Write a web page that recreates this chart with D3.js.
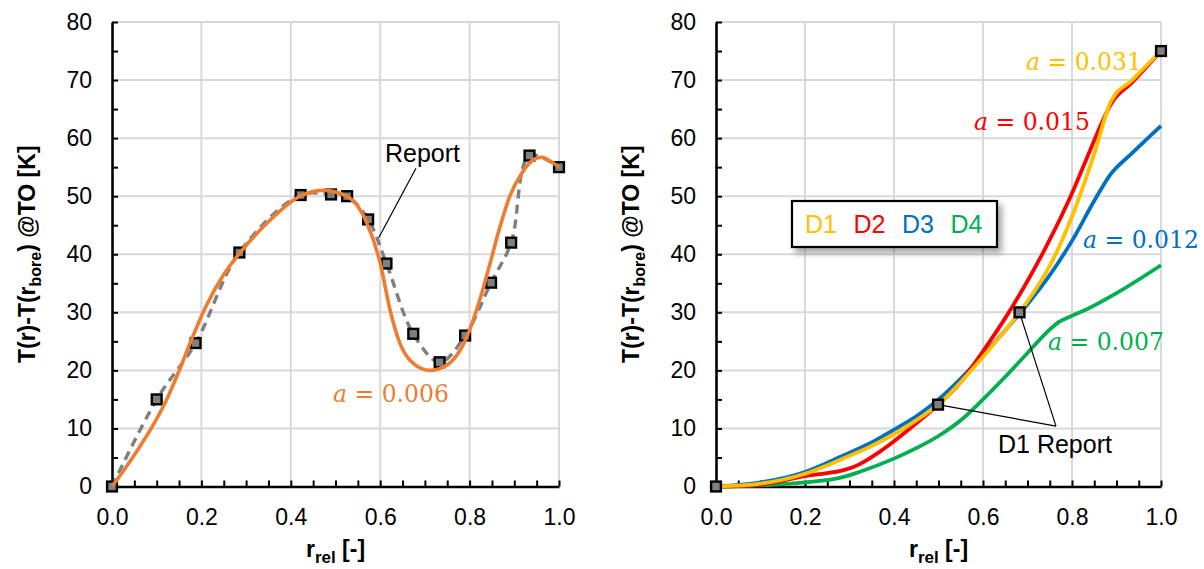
<!DOCTYPE html>
<html>
<head>
<meta charset="utf-8">
<script src="https://cdn.jsdelivr.net/npm/d3@7"></script>
<style>
  body { margin: 0; background: #fff; }
  svg { display: block; }
  .tick text { font-family: "Liberation Sans", Arial, sans-serif; font-size: 23px; fill: #000; }
  .axis path, .axis line { stroke: #000; }
  .title { font-family: "Liberation Sans", Arial, sans-serif; font-weight: bold; font-size: 23px; }
  .note { font-family: "Liberation Sans", Arial, sans-serif; font-size: 25px; }
  .math { font-family: "DejaVu Serif", serif; font-size: 23.5px; }
</style>
</head>
<body>
<svg id="chart" width="1204" height="569"></svg>
<script>
// left panel: report points and model fit (a = 0.006)
const reportR = [0, 0.100, 0.187, 0.285, 0.422, 0.490, 0.526, 0.573, 0.614, 0.674, 0.733, 0.790, 0.848, 0.893, 0.934, 1.0];
const reportT = [0, 15.0, 24.7, 40.3, 50.2, 50.3, 50.0, 46.0, 38.4, 26.3, 21.4, 26.0, 35.1, 42.0, 57.0, 55.0];

const modelR = [0, 0.03, 0.06, 0.09, 0.12, 0.15, 0.18, 0.21, 0.25, 0.29, 0.35, 0.421, 0.473, 0.525, 0.570, 0.600, 0.622, 0.644, 0.674, 0.711, 0.749, 0.794, 0.823, 0.846, 0.866, 0.890, 0.917, 0.943, 0.961, 0.987, 1.0];
const modelT = [0, 3.2, 6.6, 10.3, 14.6, 19.9, 25.7, 31.0, 36.5, 40.6, 45.6, 50.0, 51.0, 50.0, 45.4, 38.5, 30.4, 24.7, 21.2, 20.0, 20.9, 25.8, 32.2, 38.5, 44.2, 50.0, 54.0, 56.3, 56.7, 55.7, 55.0];

// right panel: designs D1..D4
const d1R = [0, 0.10, 0.20, 0.285, 0.345, 0.40, 0.45, 0.50, 0.55, 0.60, 0.65, 0.682, 0.70, 0.75, 0.80, 0.85, 0.888, 0.935, 1.0];
const d1T = [0, 0.5, 2.2, 4.8, 6.8, 9.0, 11.4, 14.1, 18.0, 22.3, 26.9, 30.0, 31.9, 38.0, 46.5, 57.3, 66.4, 70.0, 75.0];
const d2R = [0, 0.10, 0.20, 0.25, 0.28, 0.31, 0.34, 0.37, 0.40, 0.45, 0.50, 0.55, 0.60, 0.65, 0.70, 0.75, 0.80, 0.84, 0.865, 0.887, 0.935, 1.0];
const d2T = [0, 0.3, 1.8, 2.3, 2.7, 3.4, 4.6, 6.1, 7.8, 10.9, 14.1, 18.0, 23.3, 29.0, 35.4, 42.5, 50.5, 57.8, 62.3, 65.8, 69.6, 75.0];
const d3R = [0, 0.10, 0.20, 0.285, 0.345, 0.40, 0.45, 0.50, 0.55, 0.60, 0.65, 0.70, 0.75, 0.80, 0.85, 0.885, 0.935, 1.0];
const d3T = [0, 0.7, 2.5, 5.3, 7.4, 9.8, 12.1, 15.0, 18.6, 22.6, 26.9, 31.4, 36.4, 42.3, 49.2, 53.6, 57.4, 62.1];
const d4R = [0, 0.10, 0.20, 0.285, 0.322, 0.40, 0.45, 0.50, 0.55, 0.60, 0.65, 0.70, 0.74, 0.77, 0.80, 0.83, 0.90, 1.0];
const d4T = [0, 0.2, 0.7, 1.6, 2.5, 4.8, 6.6, 8.7, 11.4, 15.0, 18.9, 23.0, 26.3, 28.3, 29.4, 30.4, 33.3, 38.1];

const d1ReportR = [0, 0.499, 0.682, 1.0];
const d1ReportT = [0, 14.1, 30.0, 75.0];

const seriesNames = ["D1", "D2", "D3", "D4"];
const seriesColors = ["#FFC000", "#FF0000", "#0070C0", "#00B050"];
const aLabels = ["0.031", "0.015", "0.012", "0.007"];

const xTicks = d3.range(0, 21).map(i => i / 20);
const yTicks = d3.range(0, 17).map(i => i * 5);

const svg = d3.select("#chart");
const defs = svg.append("defs");
const shadow = defs.append("filter").attr("id", "shadow")
    .attr("x", "-10%").attr("y", "-20%").attr("width", "130%").attr("height", "160%");
shadow.append("feDropShadow").attr("dx", 4).attr("dy", 5).attr("stdDeviation", 3)
    .attr("flood-color", "#000").attr("flood-opacity", 0.35);

const zip = (xs, ys) => xs.map((x, i) => [x, ys[i]]);

function makePanel(left, right) {
    const x = d3.scaleLinear().domain([0, 1]).range([left, right]);
    const y = d3.scaleLinear().domain([0, 80]).range([486.5, 22]);
    const g = svg.append("g");

    // grid
    g.selectAll(".gx").data(d3.range(1, 6).map(i => i * 0.2)).enter().append("line")
        .attr("x1", d => x(d)).attr("x2", d => x(d)).attr("y1", y(0)).attr("y2", y(80))
        .attr("stroke", "#d9d9d9").attr("stroke-width", 2);
    g.selectAll(".gy").data(d3.range(1, 9).map(i => i * 10)).enter().append("line")
        .attr("x1", x(0)).attr("x2", x(1)).attr("y1", d => y(d)).attr("y2", d => y(d))
        .attr("stroke", "#d9d9d9").attr("stroke-width", 2);

    // axes
    const ax = g.append("g").attr("class", "axis").attr("transform", `translate(0,${y(0)})`)
        .call(d3.axisBottom(x).tickValues(xTicks).tickSizeInner(-6).tickSizeOuter(0).tickPadding(22)
            .tickFormat(d => Math.round(d * 20) % 4 === 0 ? d.toFixed(1) : ""));
    const ay = g.append("g").attr("class", "axis").attr("transform", `translate(${x(0)},0)`)
        .call(d3.axisLeft(y).tickValues(yTicks).tickSizeInner(-6).tickSizeOuter(0).tickPadding(20)
            .tickFormat(d => d % 10 === 0 ? d : ""));
    [ax, ay].forEach(a => {
        a.select(".domain").attr("stroke-width", 2.6);
        a.selectAll(".tick line").attr("stroke-width", 2);
    });

    // axis titles
    const cx = (x(0) + x(1)) / 2;
    const xt = g.append("text").attr("class", "title").attr("font-size", 24)
        .attr("x", cx).attr("y", 557).attr("text-anchor", "middle");
    xt.append("tspan").text("r");
    xt.append("tspan").attr("font-size", 17).attr("dy", 6).text("rel");
    xt.append("tspan").attr("dy", -6).text(" [-]");

    const yt = g.append("text").attr("class", "title")
        .attr("transform", `translate(${x(0) - 77},${(y(0) + y(80)) / 2}) rotate(-90)`)
        .attr("text-anchor", "middle");
    yt.append("tspan").text("T(r)-T(r");
    yt.append("tspan").attr("font-size", 16).attr("dy", 6).text("bore");
    yt.append("tspan").attr("dy", -6).text(") @TO [K]");

    return { g, x, y };
}

function drawMarkers(p, pts) {
    p.g.selectAll(null).data(pts).enter().append("rect")
        .attr("x", d => p.x(d[0]) - 4.9).attr("y", d => p.y(d[1]) - 4.9)
        .attr("width", 9.8).attr("height", 9.8)
        .attr("fill", "#7f7f7f").attr("stroke", "#000").attr("stroke-width", 2.4);
}

function mathLabel(p, xStart, baseline, value, color) {
    const t = p.g.append("text").attr("class", "math").attr("x", xStart).attr("y", baseline).attr("fill", color);
    t.append("tspan").attr("font-style", "italic").text("a");
    t.append("tspan").text(" = " + value);
}

// ---------- left ----------
const L = makePanel(112, 559);
const dashedL = d3.line().curve(d3.curveCatmullRom.alpha(0.5)).x(d => L.x(d[0])).y(d => L.y(d[1]));
const smoothL = d3.line().curve(d3.curveMonotoneX).x(d => L.x(d[0])).y(d => L.y(d[1]));
L.g.append("path").attr("d", dashedL(zip(reportR, reportT)))
    .attr("fill", "none").attr("stroke", "#7f7f7f").attr("stroke-width", 3.4).attr("stroke-dasharray", "9,6");
drawMarkers(L, zip(reportR, reportT));
L.g.append("path").attr("d", smoothL(zip(modelR, modelT)))
    .attr("fill", "none").attr("stroke", "#ED7D31").attr("stroke-width", 3.6);

L.g.append("line").attr("x1", L.x(0.680)).attr("y1", L.y(54.8)).attr("x2", L.x(0.597)).attr("y2", L.y(42.9))
    .attr("stroke", "#000").attr("stroke-width", 1.2);
L.g.append("text").attr("class", "note").attr("x", 385).attr("y", 162).text("Report");
mathLabel(L, 333, 402, "0.006", "#ED7D31");

// ---------- right ----------
const R = makePanel(716, 1161);
const lineR = d3.line().curve(d3.curveMonotoneX).x(d => R.x(d[0])).y(d => R.y(d[1]));
const designs = [zip(d1R, d1T), zip(d2R, d2T), zip(d3R, d3T), zip(d4R, d4T)];
[3, 2, 1, 0].forEach(i => {
    R.g.append("path").attr("d", lineR(designs[i]))
        .attr("fill", "none").attr("stroke", seriesColors[i]).attr("stroke-width", 3.8);
});

const apex = [0.764, 10.4];
[[0.499, 14.1], [0.682, 30.0]].forEach(s => {
    R.g.append("line").attr("x1", R.x(s[0])).attr("y1", R.y(s[1])).attr("x2", R.x(apex[0])).attr("y2", R.y(apex[1]))
        .attr("stroke", "#000").attr("stroke-width", 1.2);
});
drawMarkers(R, zip(d1ReportR, d1ReportT));
R.g.append("text").attr("class", "note").attr("x", 998).attr("y", 453).text("D1 Report");

const labelPos = [[1026, 70], [974, 130], [1083, 248], [1048, 350]];
aLabels.forEach((v, i) => mathLabel(R, labelPos[i][0], labelPos[i][1], v, seriesColors[i]));

// legend
const lg = R.g.append("g").attr("transform", "translate(792,201)");
lg.append("rect").attr("width", 205).attr("height", 46).attr("fill", "#fff")
    .attr("stroke", "#000").attr("stroke-width", 2.2).attr("filter", "url(#shadow)");
seriesNames.forEach((n, i) => {
    lg.append("text").attr("class", "note").attr("font-size", 24)
        .attr("x", 13 + i * 48.5).attr("y", 32).attr("fill", seriesColors[i]).text(n);
});
</script>
</body>
</html>
